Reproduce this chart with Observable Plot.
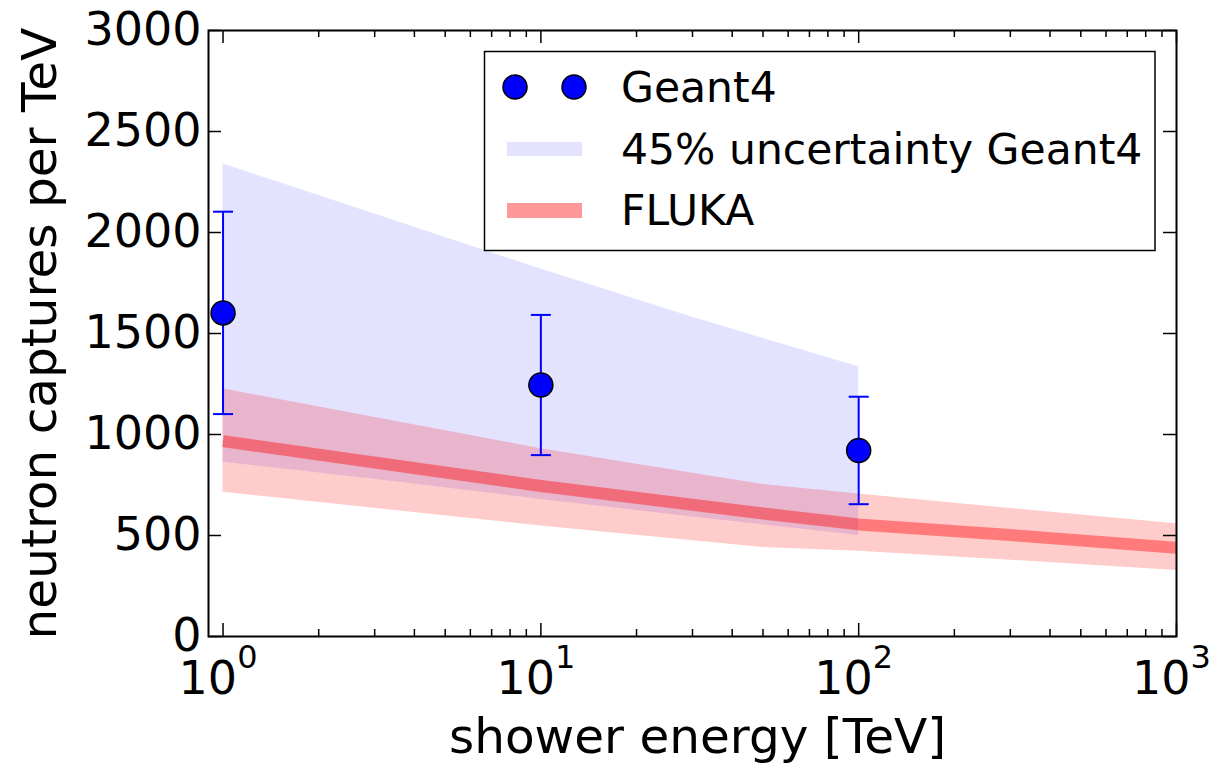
<!DOCTYPE html>
<html><head><meta charset="utf-8">
<script src="https://cdn.jsdelivr.net/npm/d3@7"></script>
<script src="https://cdn.jsdelivr.net/npm/@observablehq/plot@0.6"></script>
<style>body{margin:0;background:#fff} svg{display:block}</style>
</head><body><div id="chart"></div>
<script>
// Geant4 simulated points
const g4Energy = [1, 10, 100];
const g4Captures = [1602, 1245, 921];
const g4Error = [501, 347, 266];

// 45% uncertainty band around Geant4
const bandEnergy = [1, 3, 10, 30, 100];
const bandUpper = [2340, 2091, 1819, 1580, 1335];
const bandLower = [863, 778, 678, 592, 500];

// FLUKA curve and its band
const flukaEnergy = [1, 10, 50, 100, 300, 1000];
const flukaCaptures = [967, 745, 609, 555, 502, 439];
const flukaUpper = [1226, 930, 752, 706, 634, 558];
const flukaLower = [714, 547, 441, 422, 378, 327];

// ticks
const yTicks = [0, 500, 1000, 1500, 2000, 2500, 3000];
const xMajor = [1, 10, 100, 1000];
const xMinor = [2,3,4,5,6,7,8,9,20,30,40,50,60,70,80,90,200,300,400,500,600,700,800,900];

const xLabel = "shower energy [TeV]";
const yLabel = "neutron captures per TeV";
const legendLabels = ["Geant4", "45% uncertainty Geant4", "FLUKA"];

const g4 = g4Energy.map((e, i) => ({e, v: g4Captures[i], err: g4Error[i]}));
const band = bandEnergy.map((e, i) => ({e, hi: bandUpper[i], lo: bandLower[i]}));
const fluka = flukaEnergy.map((e, i) => ({e, v: flukaCaptures[i], hi: flukaUpper[i], lo: flukaLower[i]}));

const W = 1214, H = 766, mL = 208, mR = 38, mT = 30, mB = 130;
const fw = W - mL - mR, fh = H - mT - mB;
const capSymbol = {draw(ctx, size) { const r = Math.sqrt(size / Math.PI); ctx.moveTo(-r, 0); ctx.lineTo(r, 0); }};

const plot = Plot.plot({
  width: W, height: H,
  marginLeft: mL, marginRight: mR, marginTop: mT, marginBottom: mB,
  style: {fontFamily: "'DejaVu Sans', sans-serif", fontSize: "46px", background: "white", color: "black", overflow: "visible"},
  x: {type: "log", domain: [0.9, 1000], axis: null},
  y: {domain: [0, 3000], axis: null},
  marks: [
    Plot.areaY(band, {x: "e", y1: "lo", y2: "hi", fill: "blue", fillOpacity: 0.11}),
    Plot.areaY(fluka, {x: "e", y1: "lo", y2: "hi", fill: "red", fillOpacity: 0.2}),
    Plot.line(fluka, {x: "e", y: "v", stroke: "red", strokeOpacity: 0.4, strokeWidth: 12, strokeLinecap: "butt", clip: true}),
    Plot.ruleX(g4, {x: "e", y1: d => d.v - d.err, y2: d => d.v + d.err, stroke: "blue", strokeWidth: 2}),
    Plot.dot(g4, {x: "e", y: d => d.v - d.err, symbol: capSymbol, r: 10, stroke: "blue", strokeWidth: 2, fill: "none"}),
    Plot.dot(g4, {x: "e", y: d => d.v + d.err, symbol: capSymbol, r: 10, stroke: "blue", strokeWidth: 2, fill: "none"}),
    Plot.dot(g4, {x: "e", y: "v", r: 12, fill: "blue", stroke: "black", strokeWidth: 1.5}),
    Plot.tickY(yTicks, {y: d => d, insetRight: fw - 13, stroke: "black", strokeWidth: 1.5}),
    Plot.tickY(yTicks, {y: d => d, insetLeft: fw - 13, stroke: "black", strokeWidth: 1.5}),
    Plot.tickX(xMajor, {x: d => d, insetTop: fh - 13, stroke: "black", strokeWidth: 1.5}),
    Plot.tickX(xMajor, {x: d => d, insetBottom: fh - 13, stroke: "black", strokeWidth: 1.5}),
    Plot.tickX(xMinor, {x: d => d, insetTop: fh - 7, stroke: "black", strokeWidth: 1.5}),
    Plot.tickX(xMinor, {x: d => d, insetBottom: fh - 7, stroke: "black", strokeWidth: 1.5}),
    Plot.frame({stroke: "black", strokeWidth: 2}),
    Plot.text(yTicks, {y: d => d, frameAnchor: "left", textAnchor: "end", dx: -7, text: d => String(d), fill: "black"}),
    Plot.text(xMajor, {x: d => d, frameAnchor: "bottom", textAnchor: "middle", lineAnchor: "bottom", dy: 57, dx: -5, text: d => "10^" + Math.round(Math.log10(d)), fill: "black"}),
    Plot.text([xLabel], {frameAnchor: "bottom", textAnchor: "middle", lineAnchor: "bottom", dy: 116, dx: 5, text: d => d, fontSize: 48.5, fill: "black"}),
    Plot.text([yLabel], {frameAnchor: "left", textAnchor: "middle", dx: -153, rotate: -90, lineAnchor: "bottom", text: d => d, fontSize: 48.5, fill: "black"})
  ]
});

document.getElementById("chart").appendChild(plot);
const svg = d3.select(plot);

// superscript exponents for x tick labels
svg.selectAll("text").each(function() {
  const m = /^10\^(\d)$/.exec(this.textContent);
  if (m) {
    this.textContent = "";
    const s = d3.select(this);
    s.append("tspan").text("10");
    s.append("tspan").attr("dy", -26).attr("font-size", 32).text(m[1]);
  }
});

// legend
const lg = svg.append("g").attr("font-family", "'DejaVu Sans', sans-serif").attr("font-size", 42.5).attr("text-anchor", "start");
lg.append("rect").attr("x", 484.5).attr("y", 51.5).attr("width", 670.5).attr("height", 199)
  .attr("fill", "white").attr("stroke", "black").attr("stroke-width", 1.5);
[515, 574].forEach(cx => lg.append("circle").attr("cx", cx).attr("cy", 87).attr("r", 12)
  .attr("fill", "blue").attr("stroke", "black").attr("stroke-width", 1.5));
lg.append("rect").attr("x", 507).attr("y", 142).attr("width", 75).attr("height", 14)
  .attr("fill", "blue").attr("fill-opacity", 0.11);
lg.append("rect").attr("x", 507).attr("y", 203).attr("width", 75).attr("height", 15)
  .attr("fill", "red").attr("fill-opacity", 0.4);
[102, 164, 225].forEach((y, i) => lg.append("text").attr("x", 621).attr("y", y)
  .attr("text-anchor", "start").attr("fill", "black").text(legendLabels[i]));
</script>
</body></html>
